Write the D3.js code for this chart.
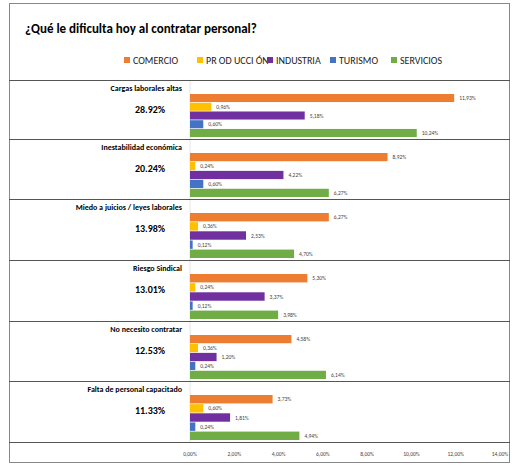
<!DOCTYPE html><html><head><meta charset="utf-8"><script src="https://d3js.org/d3.v7.min.js"></script>
<style>body{margin:0;background:#fff}text{font-family:Calibri,Carlito,"Liberation Sans",sans-serif}</style></head><body><svg id="c" width="531" height="471"></svg><script>
const categories=["Cargas laborales altas","Inestabilidad económica","Miedo a juicios / leyes laborales","Riesgo Sindical","No necesito contratar","Falta de personal capacitado"];
const totals=["28.92%","20.24%","13.98%","13.01%","12.53%","11.33%"];
const series=["COMERCIO","PR OD UCCI ÓN","INDUSTRIA","TURISMO","SERVICIOS"];
const colors=["#ED7D31","#FFC000","#7030A0","#4472C4","#70AD47"];
const comercio=[11.93,8.92,6.27,5.30,4.58,3.73];
const produccion=[0.96,0.24,0.36,0.24,0.36,0.60];
const industria=[5.18,4.22,2.53,3.37,1.20,1.81];
const turismo=[0.60,0.60,0.12,0.12,0.24,0.24];
const servicios=[10.24,6.27,4.70,3.98,6.14,4.94];
const ticks=[0,2,4,6,8,10,12,14];
const vals=[comercio,produccion,industria,turismo,servicios];
const svg=d3.select("#c");
svg.append("rect").attr("x",9.5).attr("y",3.5).attr("width",500).attr("height",459).attr("fill","none").attr("stroke","#888");
svg.append("text").attr("x",25).attr("y",33).attr("font-size",13).attr("font-weight","bold").text("¿Qué le dificulta hoy al contratar personal?");
const lx=[124,197,267,330,391];
series.forEach((s,i)=>{svg.append("rect").attr("x",lx[i]).attr("y",57).attr("width",6).attr("height",6).attr("fill",colors[i]);
svg.append("text").attr("x",lx[i]+9).attr("y",63.5).attr("font-size",10).attr("fill","#222").text(s);});
const x=d3.scaleLinear().domain([0,14]).range([190,500]);
const tops=[80,139,199,260,321,381,442];
svg.append("line").attr("x1",x(0)).attr("x2",x(0)).attr("y1",80).attr("y2",442).attr("stroke","#e4e4e4");
tops.forEach(t=>svg.append("line").attr("x1",9).attr("x2",510).attr("y1",t+.5).attr("y2",t+.5).attr("stroke","#555"));
const fmt=v=>v.toFixed(2).replace(".",",")+"%";
categories.forEach((c,g)=>{const t=tops[g];const h=tops[g+1]-t;
svg.append("text").attr("x",182).attr("y",t+11).attr("text-anchor","end").attr("font-size",8).attr("font-weight","bold").text(c);
svg.append("text").attr("x",150).attr("y",t+33).attr("text-anchor","middle").attr("font-size",10).attr("font-weight","bold").text(totals[g]);
const y=d3.scaleBand().domain(series).range([t+14,t+h-2]).paddingInner(0.08);
series.forEach((s,i)=>{const v=vals[i][g];
svg.append("rect").attr("x",x(0)).attr("y",y(s)).attr("width",x(v)-x(0)).attr("height",y.bandwidth()).attr("fill",colors[i]);
svg.append("text").attr("x",x(v)+5).attr("y",y(s)+y.bandwidth()/2+2).attr("font-size",5.5).attr("fill","#444").text(fmt(v));});
});
ticks.forEach(v=>svg.append("text").attr("x",x(v)).attr("y",456).attr("text-anchor","middle").attr("font-size",5.5).attr("fill","#444").text(fmt(v)));
</script></body></html>
